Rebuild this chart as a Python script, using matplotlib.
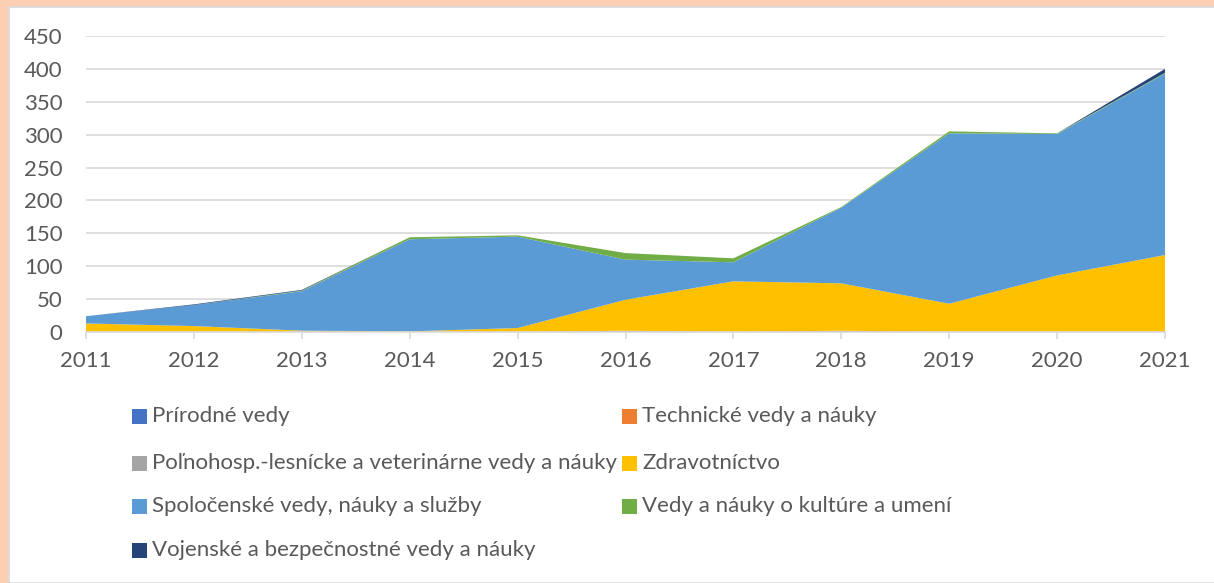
import numpy as np
import matplotlib
matplotlib.use("Agg")
import matplotlib.pyplot as plt
from matplotlib.patches import Rectangle

# data (stacked area, bottom to top)
years = [2011, 2012, 2013, 2014, 2015, 2016, 2017, 2018, 2019, 2020, 2021]
prirodne = [0, 0, 0, 0, 0, 1, 0, 1, 0, 0, 0]
technicke = [0, 0, 0, 0, 0, 0, 0, 1, 0, 0, 0]
polnohosp = [0, 0, 0, 0, 0, 1, 0, 0, 0, 0, 0]
zdravotnictvo = [13, 9, 2, 1, 6, 47, 77, 72, 43, 86, 117]
spolocenske = [11, 32, 60, 140, 139, 61, 29, 115, 259, 215, 276]
kultura = [0, 0, 1, 3, 2, 10, 6, 1, 3, 1, 1]
vojenske = [0, 1, 1, 0, 0, 0, 0, 0, 0, 0, 6]

labels = ["Prírodné vedy", "Technické vedy a náuky",
          "Poľnohosp.-lesnícke a veterinárne vedy a náuky", "Zdravotníctvo",
          "Spoločenské vedy, náuky a služby", "Vedy a náuky o kultúre a umení",
          "Vojenské a bezpečnostné vedy a náuky"]
colors = ["#4472C4", "#ED7D31", "#A5A5A5", "#FFC000", "#5B9BD5", "#70AD47", "#264478"]
yticks = [0, 50, 100, 150, 200, 250, 300, 350, 400, 450]

plt.rcParams['font.family'] = ['Lato', 'DejaVu Sans']
W, H = 1214, 583
fig = plt.figure(figsize=(W / 100, H / 100), dpi=100)
fig.patch.set_facecolor("#FCCFB4")

# white chart panel
fig.patches.append(Rectangle((9 / W, 0), 1.0, 1 - 7 / H, transform=fig.transFigure,
                             facecolor="white", edgecolor="#D9D9D9", linewidth=1.2, zorder=-1))

ax = fig.add_axes([86 / W, 1 - 332 / H, (1165 - 86) / W, (332 - 36) / H])
ax.set_zorder(1)
ax.set_facecolor("none")
ax.stackplot(years, prirodne, technicke, polnohosp, zdravotnictvo, spolocenske,
             kultura, vojenske, colors=colors, linewidth=0, zorder=2)

ax.set_xlim(2011, 2021)
ax.set_ylim(0, 450)
ax.set_xticks(years)
ax.set_yticks(yticks)
ax.grid(axis="y", color="#D9D9D9", linewidth=1.2, zorder=0)
ax.set_axisbelow(True)
for s in ["top", "right", "left"]:
    ax.spines[s].set_visible(False)
ax.spines["bottom"].set_color("#D9D9D9")
ax.spines["bottom"].set_linewidth(1.2)
ax.spines["bottom"].set_zorder(3)
ax.tick_params(axis="x", length=5, color="#D9D9D9", width=1.2, pad=9,
               labelsize=16, labelcolor="#595959")
ax.tick_params(axis="y", length=0, pad=17, labelsize=16, labelcolor="#595959")

# legend laid out in two columns, row-wise like the original
col_x = [132, 622]
row_y = [416, 463, 506, 550]
for i, (lab, c) in enumerate(zip(labels, colors)):
    cx = col_x[i % 2]
    cy = row_y[i // 2]
    fig.patches.append(Rectangle((cx / W, 1 - (cy + 7.5) / H), 15 / W, 15 / H,
                                 transform=fig.transFigure, facecolor=c,
                                 edgecolor="none", zorder=3))
    fig.text((cx + 20) / W, 1 - cy / H, lab, fontsize=16, color="#595959",
             va="center", ha="left")

fig.savefig("out.png", dpi=100, facecolor=fig.get_facecolor())
